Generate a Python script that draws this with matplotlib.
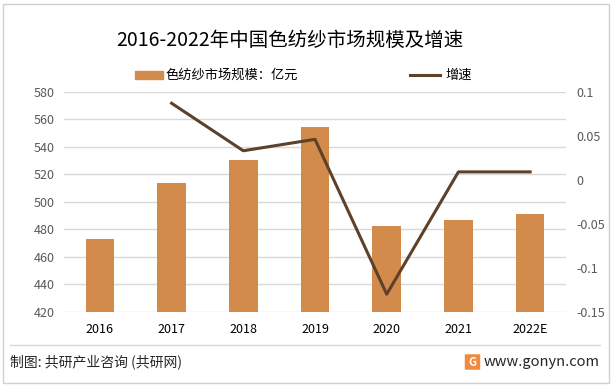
import matplotlib
matplotlib.use("Agg")
import matplotlib.pyplot as plt
from matplotlib.patches import Rectangle, FancyBboxPatch
from matplotlib.lines import Line2D

plt.rcParams['font.family'] = ['Noto Sans CJK SC', 'DejaVu Sans']

years = ["2016", "2017", "2018", "2019", "2020", "2021", "2022E"]
market_size = [473, 514, 530.4, 554.6, 482.4, 486.8, 491.1]
growth_years = ["2017", "2018", "2019", "2020", "2021", "2022E"]
growth = [0.087, 0.033, 0.046, -0.130, 0.009, 0.009]

title = "2016-2022年中国色纺纱市场规模及增速"
bar_label = "色纺纱市场规模：亿元"
line_label = "增速"
source = "制图: 共研产业咨询 (共研网)"
site = "www.gonyn.com"

bar_color = "#D38B4B"
line_color = "#5E4129"
grid_color = "#D9D9D9"
tick_color = "#595959"

fig = plt.figure(figsize=(6.12, 3.85), dpi=100)
W, H = 612, 385
ax = fig.add_axes([64 / W, 1 - 311.8 / H, (566 - 64) / W, (311.8 - 91.8) / H])
x = list(range(len(years)))
ax.bar(x, market_size, width=0.4, color=bar_color, zorder=2)
ax.set_ylim(420, 580)
ax.set_yticks(range(420, 581, 20))
ax.set_xlim(-0.5, len(years) - 0.5)
ax.set_xticks(x)
ax.set_xticklabels(years, fontsize=9, color="black")
ax.grid(axis="y", color=grid_color, linewidth=1, zorder=0)
ax.set_axisbelow(True)
for s in ax.spines.values():
    s.set_visible(False)
ax.tick_params(axis="y", length=0, labelsize=9, labelcolor=tick_color, pad=7)
ax.tick_params(axis="x", length=0, pad=8)

ax2 = ax.twinx()
gx = [years.index(g) for g in growth_years]
ax2.plot(gx, growth, color=line_color, linewidth=2.2, zorder=3)
ax2.set_ylim(-0.15, 0.1)
ax2.set_yticks([-0.15, -0.1, -0.05, 0, 0.05, 0.1])
ax2.set_yticklabels(["-0.15", "-0.1", "-0.05", "0", "0.05", "0.1"])
ax2.tick_params(axis="y", length=0, labelsize=9, labelcolor=tick_color, pad=7.5)
for s in ax2.spines.values():
    s.set_visible(False)

fig.text(290 / W, 1 - 40 / H, title, ha="center", va="center", fontsize=14, color="black")

# legend
fig.patches.append(Rectangle((135 / W, 1 - 79 / H), 28 / W, 8 / H,
                             transform=fig.transFigure, color=bar_color))
fig.text(165 / W, 1 - 75 / H, bar_label, ha="left", va="center", fontsize=9.5, color="black")
fig.lines.append(Line2D([410 / W, 440 / W], [1 - 75 / H, 1 - 75 / H],
                        transform=fig.transFigure, color=line_color, linewidth=2.2))
fig.text(445 / W, 1 - 75 / H, line_label, ha="left", va="center", fontsize=9.5, color="black")

# footer separator and frame
fig.lines.append(Line2D([10 / W, 600 / W], [1 - 345 / H, 1 - 345 / H],
                        transform=fig.transFigure, color="#D9D9D9", linewidth=1))
fig.patches.append(Rectangle((2.5 / W, 2.5 / H), 606 / W, 379 / H, transform=fig.transFigure,
                             fill=False, edgecolor="#D0D0D0", linewidth=1))
fig.text(10 / W, 1 - 362 / H, source, ha="left", va="center", fontsize=10, color="#262626")
fig.patches.append(FancyBboxPatch((466 / W, 1 - 369 / H), 13 / W, 14 / H,
                                  boxstyle="round,pad=0.002", transform=fig.transFigure,
                                  facecolor="#F08A3C", edgecolor="none"))
fig.text(472.5 / W, 1 - 362 / H, "G", ha="center", va="center", fontsize=8,
         color="white", fontweight="bold")
fig.text(600 / W, 1 - 362 / H, site, ha="right", va="center", fontsize=10.5, color="#262626")

fig.savefig("out.png", dpi=100)
